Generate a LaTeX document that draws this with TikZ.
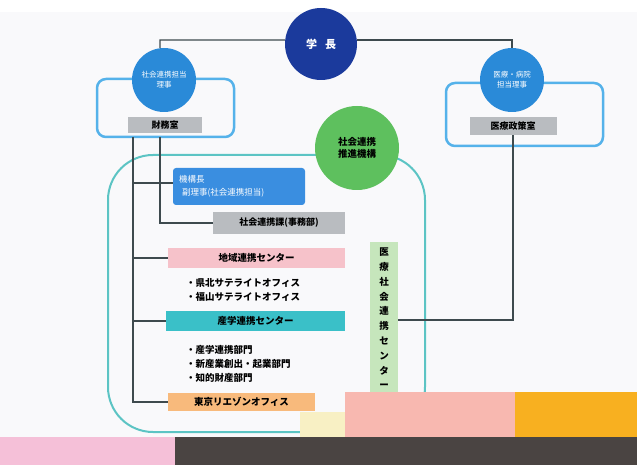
\documentclass[tikz,border=0pt]{standalone}
\usepackage{fontspec}
\setmainfont{Noto Sans CJK JP}
\newfontfamily\jp{Noto Sans CJK JP}
\begin{document}
\begin{tikzpicture}[x=1pt,y=-1pt,
  font=\jp\fontsize{8}{9.5}\selectfont,
  circ/.style={circle,text=white,inner sep=0pt,align=center,font=\jp\fontsize{7.5}{10}\selectfont},
  grayb/.style={fill=graybox,inner sep=0pt,font=\jp\bfseries\fontsize{9}{10}\selectfont},
  lnk/.style={draw=linec,line width=1.3pt},
  outl/.style={draw=outlblue,line width=2.5pt,rounded corners=9pt},
  ctr/.style={inner sep=0pt,font=\jp\bfseries\fontsize{9.5}{10}\selectfont},
  bullet/.style={anchor=west,inner sep=0pt,font=\jp\bfseries\fontsize{9.5}{10}\selectfont}
]
\definecolor{bg}{HTML}{F9F9FB}
\definecolor{navy}{HTML}{1B3A9C}
\definecolor{midblue}{HTML}{2A8AD8}
\definecolor{outlblue}{HTML}{55B2EA}
\definecolor{graybox}{HTML}{B9BCC0}
\definecolor{greenc}{HTML}{5EC05E}
\definecolor{tealoutl}{HTML}{5CC4C4}
\definecolor{boxblue}{HTML}{3A8EE0}
\definecolor{pinkb}{HTML}{F6C2CA}
\definecolor{tealb}{HTML}{3AC0C8}
\definecolor{orangeb}{HTML}{F8BA7C}
\definecolor{greenv}{HTML}{C6E6BC}
\definecolor{linec}{HTML}{3E4A4E}
\definecolor{artpink}{HTML}{F8B8B0}
\definecolor{artorange}{HTML}{F8B020}
\definecolor{artyellow}{HTML}{F8F0C4}
\definecolor{artpink2}{HTML}{F5C0D8}
\definecolor{artdark}{HTML}{4A4442}
\useasboundingbox (0,0) rectangle (637,465);
\fill[white] (0,0) rectangle (637,465);
\fill[bg] (0,12) rectangle (637,437);

% large teal outline
\draw[tealoutl,line width=2pt,rounded corners=45pt] (330,155) -- (108,155) -- (108,432) -- (425,432) -- (425,155) -- (390,155);

% outlines around circles
\draw[outl] (97,79) rectangle (234,137);
\draw[outl] (446,83) rectangle (603,146);

% circles
\node[circ,fill=navy,minimum size=72pt,font=\jp\bfseries\fontsize{11}{12}\selectfont] (pres) at (321,44) {学\hspace{8pt}長};
\node[circ,fill=midblue,minimum size=64pt] (lc) at (164,80) {社会連携担当\\理事};
\node[circ,fill=midblue,minimum size=64pt] (rc) at (512,80) {医療・病院\\担当理事};
\node[circ,fill=greenc,text=black,minimum size=84pt,font=\jp\bfseries\fontsize{9.5}{12}\selectfont] (gc) at (357,148) {社会連携\\推進機構};

% gray boxes
\node[grayb,minimum width=74pt,minimum height=16pt] (lg) at (165,125) {財務室};
\node[grayb,minimum width=87pt,minimum height=18pt] (rg) at (513,126) {医療政策室};

% top connectors
\coordinate (tl1) at (160,40);
\draw[lnk] (lc.97) -- (tl1) -- (pres.west |- tl1);
\draw[lnk] (pres.east |- tl1) -| (rc.north);

% blue box
\node[fill=boxblue,text=white,rounded corners=3pt,minimum width=132pt,minimum height=37pt,text width=120pt,align=left,inner sep=0pt,font=\jp\fontsize{8.5}{13}\selectfont] (bb) at (239,186.5) {機構長\\\hspace{3pt}副理事(社会連携担当)};
\node[grayb,minimum width=132pt,minimum height=22pt] (sg) at (279,223) {社会連携課(事務部)};

% centers
\node[ctr,fill=pinkb,minimum width=177pt,minimum height=20pt] (pk) at (256.5,258) {地域連携センター};
\node[ctr,fill=tealb,minimum width=179pt,minimum height=20pt] (tl) at (255.5,321) {産学連携センター};
\node[ctr,fill=orangeb,minimum width=147pt,minimum height=18pt] (or) at (241.5,402) {東京リエゾンオフィス};
\node[ctr,fill=greenv,minimum width=28pt,minimum height=153pt,align=center,font=\jp\bfseries\fontsize{9.5}{14.8}\selectfont] (gv) at (384,318.5) {医\\療\\社\\会\\連\\携\\セ\\ン\\タ\\ー};

% bullet items
\node[bullet] (s1) at (186,283) {・県北サテライトオフィス};
\node[bullet] (s2) at (186,297) {・福山サテライトオフィス};
\node[bullet] (d1) at (186,350) {・産学連携部門};
\node[bullet] (d2) at (186,364) {・新産業創出・起業部門};
\node[bullet] (d3) at (186,378) {・知的財産部門};

% left tree
\coordinate (v1top) at (133,137);
\coordinate (v2top) at (160,137);
\draw[lnk] (v1top) |- (or.west);
\draw[lnk] (v2top) |- (sg.west);
\draw[lnk] (133,183) -- (bb.west |- 0,183);
\draw[lnk] (133,258) -- (pk.west);
\draw[lnk] (133,321) -- (tl.west);

% right connector
\draw[lnk] (rg.south) |- (gv.east |- 0,320);

% image artifacts at the bottom
\fill[artyellow] (300,412) rectangle (345,437);
\fill[artpink] (345,392) rectangle (515,437);
\fill[artorange] (515,392) rectangle (637,437);
\fill[artpink2] (0,437) rectangle (175,465);
\fill[artdark] (175,437) rectangle (637,465);
\end{tikzpicture}
\end{document}
